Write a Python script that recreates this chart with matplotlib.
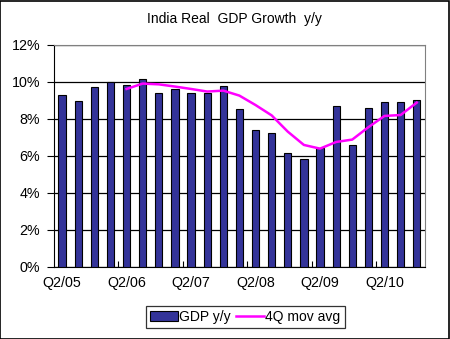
import matplotlib.pyplot as plt
from matplotlib.patches import Rectangle
from matplotlib.lines import Line2D
import numpy as np

plt.rcParams['font.family'] = ['Liberation Sans', 'DejaVu Sans']

# quarterly data, Q2/05 .. Q4/10
quarters = ['Q2/05', 'Q3/05', 'Q4/05', 'Q1/06', 'Q2/06', 'Q3/06', 'Q4/06', 'Q1/07',
            'Q2/07', 'Q3/07', 'Q4/07', 'Q1/08', 'Q2/08', 'Q3/08', 'Q4/08', 'Q1/09',
            'Q2/09', 'Q3/09', 'Q4/09', 'Q1/10', 'Q2/10', 'Q3/10', 'Q4/10']
gdp_yy = [9.28, 8.97, 9.71, 10.0, 9.82, 10.14, 9.39, 9.6, 9.39, 9.39, 9.77, 8.52,
          7.38, 7.22, 6.14, 5.81, 6.41, 8.68, 6.57, 8.57, 8.92, 8.92, 9.01]
mov_avg = [np.nan, np.nan, np.nan, np.nan, 9.62, 9.91, 9.87, 9.75, 9.62, 9.48, 9.53,
           9.26, 8.75, 8.19, 7.31, 6.59, 6.39, 6.75, 6.88, 7.55, 8.16, 8.21, 8.88]

x = np.arange(len(quarters))

fig = plt.figure(figsize=(4.5, 3.39), dpi=100)
ax = fig.add_axes([0.12, 0.2133, 0.824, 0.654])

bar_color = '#333399'
ax.bar(x, gdp_yy, width=0.45, color=bar_color, edgecolor='black', linewidth=0.8, zorder=3)
ax.plot(x, mov_avg, color='#ff00ff', linewidth=1.8, zorder=4)

ax.set_xlim(-0.5, len(quarters) - 0.5)
ax.set_ylim(0, 12)
ax.set_yticks(np.arange(0, 13, 2))
ax.set_yticklabels([f'{v}%' for v in range(0, 13, 2)])
ax.yaxis.grid(True, color='black', linewidth=0.9, zorder=0)
ax.set_axisbelow(True)

# tick marks at category boundaries, labels under every 4th bar
ax.set_xticks(np.arange(3.5, len(quarters), 4))
ax.set_xticklabels([])
ax.set_xticks(x[::4], minor=True)
ax.set_xticklabels([quarters[i] for i in x[::4]], minor=True)
ax.tick_params(axis='x', which='major', direction='in', length=4, color='black')
ax.tick_params(axis='x', which='minor', length=0, pad=7, labelsize=10.3)
ax.tick_params(axis='y', direction='out', length=5, labelsize=10.3, pad=5)

for side in ['top', 'right']:
    ax.spines[side].set_color('#808080')
for side in ['left', 'bottom']:
    ax.spines[side].set_color('black')

fig.text(0.52, 0.945, 'India Real  GDP Growth  y/y', ha='center', va='center', fontsize=10)

handles = [Rectangle((0, 0), 1, 1, facecolor=bar_color, edgecolor='black', linewidth=0.8),
           Line2D([], [], color='#ff00ff', linewidth=1.8)]
leg = fig.legend(handles, ['GDP y/y', '4Q mov avg'], loc='center',
                 bbox_to_anchor=(0.545, 0.065), ncol=2, fontsize=10, frameon=True,
                 fancybox=False, edgecolor='black', handlelength=2.0, handletextpad=0.1,
                 columnspacing=0.4, borderpad=0.3, borderaxespad=0.0)
leg.get_frame().set_linewidth(0.9)

fig.patches.append(Rectangle((0.001, 0.001), 0.997, 0.997, transform=fig.transFigure,
                             fill=False, edgecolor='black', linewidth=1.2))

fig.savefig('out.png', dpi=100)
